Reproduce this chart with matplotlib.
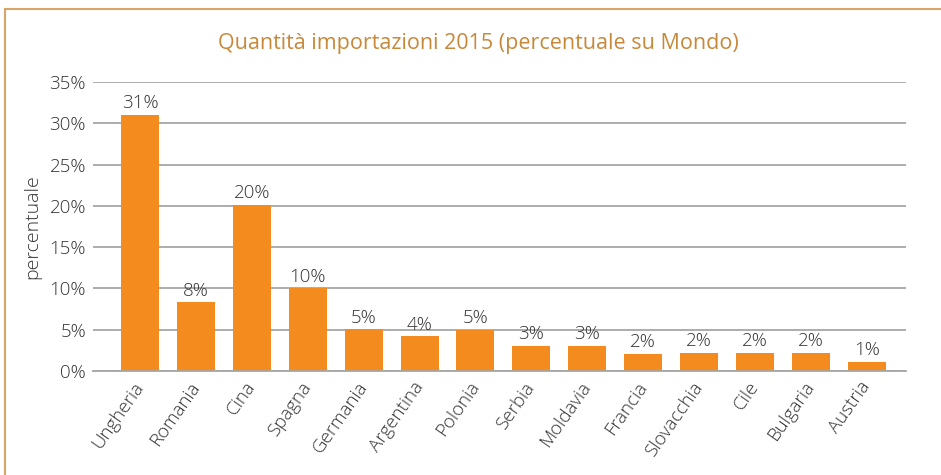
import matplotlib
matplotlib.use("Agg")
import matplotlib.pyplot as plt
from matplotlib.patches import Rectangle
from matplotlib.ticker import FuncFormatter, MultipleLocator

categories = ["Ungheria", "Romania", "Cina", "Spagna", "Germania", "Argentina",
              "Polonia", "Serbia", "Moldavia", "Francia", "Slovacchia", "Cile",
              "Bulgaria", "Austria"]
values = [31.0, 8.3, 20.1, 10.0, 5.05, 4.2, 5.0, 3.0, 3.0, 2.05, 2.15, 2.15, 2.15, 1.1]
title = "Quantità importazioni 2015 (percentuale su Mondo)"
ylabel = "percentuale"

plt.rcParams['font.family'] = ['Open Sans', 'DejaVu Sans']
plt.rcParams['font.weight'] = 'light'
TEXT = '#333333'
BAR = '#F48B1F'
GRID = '#a6a6a6'
FS = 13.5

fig = plt.figure(figsize=(9.41, 4.75), dpi=100)
W, H = 941, 475
# border frame
fig.patches.append(Rectangle((5 / W, -0.1), 1.2, 1 - 9 / H + 0.1, transform=fig.transFigure,
                             fill=False, edgecolor='#D9A46A', linewidth=1.5))

ax = fig.add_axes([93 / W, 1 - 371 / H, (906 - 93) / W, (371 - 82) / H])
x = list(range(len(categories)))
ax.bar(x, values, width=0.68, color=BAR, zorder=2)
ax.set_ylim(0, 35)
ax.set_xlim(-0.84, 13.70)
ax.yaxis.set_major_locator(MultipleLocator(5))
ax.yaxis.set_major_formatter(FuncFormatter(lambda v, p: f"{v:.0f}%"))
ax.grid(axis='y', color=GRID, linewidth=1.3, zorder=0)
ax.set_axisbelow(True)
for s in ['top', 'right', 'left']:
    ax.spines[s].set_visible(False)
ax.spines['bottom'].set_color(GRID)
ax.spines['bottom'].set_linewidth(1.3)
ax.tick_params(axis='both', length=0, labelsize=FS, labelcolor=TEXT)
ax.tick_params(axis='y', pad=5)
ax.set_xticks(x)
ax.set_xticklabels(categories, rotation=55, ha='right', va='center',
                   rotation_mode='anchor')
ax.tick_params(axis='x', pad=9)

for xi, v in zip(x, values):
    ax.annotate(f"{round(v):.0f}%", (xi, v), xytext=(0, 2), textcoords='offset points',
                ha='center', va='bottom', fontsize=FS, color=TEXT)

ax.set_ylabel(ylabel, fontsize=14, color=TEXT, labelpad=6, fontweight='light')
fig.text(478 / W, 1 - 44 / H, title, ha='center', va='center', fontsize=15.5,
         color='#C8883A', fontweight='normal')

fig.savefig("out.png", dpi=100)
